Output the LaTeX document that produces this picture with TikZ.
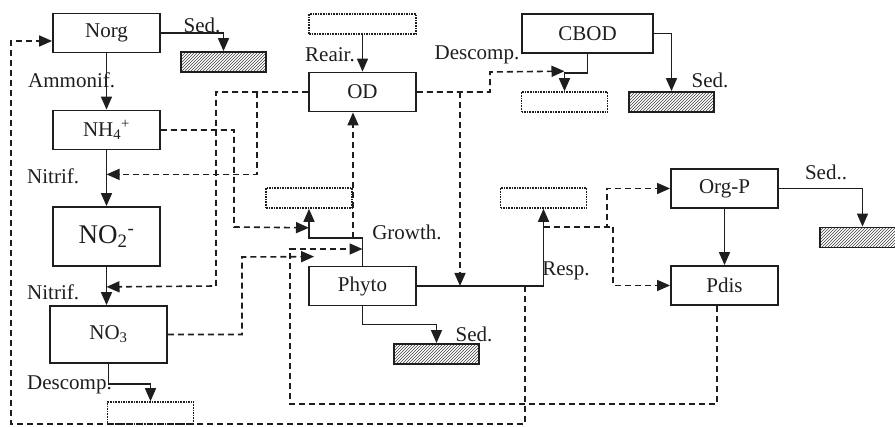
\documentclass[tikz,border=0pt]{standalone}
\usepackage{fontspec}
\setmainfont{Liberation Serif}
\usepackage{tikz}
\usetikzlibrary{arrows.meta, patterns}
\definecolor{ink}{RGB}{30,30,30}
\tikzstyle{pool} = [rectangle, minimum width=107pt, minimum height=39pt, inner sep=0pt, text centered, draw=ink, line width=1.8pt, text=ink]
\tikzstyle{sed} = [rectangle, minimum width=85pt, minimum height=20pt, draw=ink, line width=1.8pt, pattern=north east lines, pattern color=ink!85]
\tikzstyle{sink} = [rectangle, minimum width=86pt, minimum height=20pt, draw=ink, line width=1.6pt, densely dotted]
\tikzstyle{lbl} = [text=ink, inner sep=0pt]
\tikzstyle{arrow} = [line width=1.5pt, draw=ink, ->, >={Triangle[length=13pt,width=11pt]}]
\tikzstyle{flux} = [arrow, line width=1.6pt, dash pattern=on 6pt off 4pt]

\begin{document}
\begin{tikzpicture}[x=1pt, y=-1pt, node distance=97pt, font=\fontsize{21}{24}\selectfont]
\useasboundingbox (0,0) rectangle (895,427);
% pools
\node (norg) [pool] at (106.5,33) {Norg};
\node (nh) [pool, below of=norg] {NH\textsubscript{4}\textsuperscript{+}};
\node (notwo) [pool, below of=nh, yshift=-9.5pt, minimum height=59pt, font=\fontsize{27}{30}\selectfont] {NO\textsubscript{2}\textsuperscript{-}};
\node (nothree) [pool, below of=notwo, xshift=2pt, yshift=-1pt, minimum width=117pt, minimum height=57pt] {NO\textsubscript{3}};
\node (od) [pool] at (362.5,92) {OD};
\node (phyto) [pool, below of=od, yshift=-97pt] {Phyto};
\node (cbod) [pool, minimum width=131pt] at (587.5,33.5) {CBOD};
\node (orgp) [pool] at (724.5,188.5) {Org-P};
\node (pdis) [pool, below of=orgp] {Pdis};
% sediment and outside boxes
\node (sedn) [sed] at (223.5,62) {};
\node (sedc) [sed] at (671.5,102) {};
\node (sedp) [sed] at (436.5,354) {};
\node (sedo) [sed] at (862.5,237.5) {};
\node (srcod) [sink, minimum width=107pt] at (362.5,24) {};
\node (sinkc) [sink] at (564.5,102) {};
\node (sinkg) [sink] at (309,198) {};
\node (sinkr) [sink] at (543.5,198) {};
\node (sinkn) [sink, minimum height=22pt] at (150.5,413) {};
% labels
\node (tsedn) [lbl] at (202,25) {Sed.};
\node (tammon) [lbl, anchor=west] at (28,80) {Ammonif.};
\node (tnitone) [lbl, anchor=west] at (27,176) {Nitrif.};
\node (tnittwo) [lbl, anchor=west] at (27,292) {Nitrif.};
\node (tdesn) [lbl, anchor=west] at (27,385) {Descomp.};
\node (treair) [lbl] at (330,55) {Reair.};
\node (tdesc) [lbl] at (477,55) {Descomp.};
\node (tsedc) [lbl] at (710,80) {Sed.};
\node (tsedo) [lbl] at (826,172) {Sed..};
\node (tgrow) [lbl] at (407,232) {Growth.};
\node (tresp) [lbl] at (566,271) {Resp.};
\node (tsedp) [lbl] at (474,334) {Sed.};
% branch points
\coordinate (grow) at (362.5,238);
\coordinate (mort) at (525,286);
\coordinate (resp) at (543.5,227);
\coordinate (odn) at (257,92);
\coordinate (odr) at (460,92);
% solid fluxes
\draw [arrow] (norg) -- (nh);
\draw [arrow] (nh) -- (notwo);
\draw [arrow] (notwo.south) -- (notwo.south |- nothree.north);
\draw [arrow] (norg.east) -| (sedn.north);
\draw [arrow] (nothree.south) -- ++(0,20) -| (sinkn.north);
\draw [arrow] (srcod) -- (od);
\draw [arrow] (cbod.south) -- ++(0,19) -| (sinkc.north);
\draw [arrow] (cbod.east) -| (sedc.north);
\draw [arrow] (phyto.north) -- (grow) -| (sinkg.south);
\draw [arrow] (phyto.east) -| (sinkr.south);
\draw [arrow] (phyto.south) -- ++(0,18) -| (sedp.north);
\draw [arrow] (orgp) -- (pdis);
\draw [arrow] (orgp.east) -| (sedo.north);
% dashed fluxes
\draw [flux] (mort) |- (11,424) |- ([yshift=-8pt]norg.west);
\draw [flux] ([xshift=-7.5pt]pdis.south) |- (290,404) |- ([yshift=-11pt]grow);
\draw [flux] (nothree.east) -| (242,257) -- ([xshift=6pt,yshift=9pt]phyto.north west);
\draw [flux] (nh.east) -| (234,227) -- ([yshift=-19pt]sinkg.south);
\draw [flux] (od.west) -| (216,286) -- ([yshift=-20pt]notwo.south);
\draw [flux] (odn) |- ([yshift=-24pt]nh.south);
\draw [flux] ([xshift=-9.5pt]grow) -- ([xshift=-9.5pt]od.south);
\draw [flux] (od.east) -| (490,72) -- ([yshift=20pt]sinkc.north);
\draw [flux] (odr) -- (odr |- phyto.east);
\draw [flux] (resp) -- (607,227) |- (orgp.west);
\draw [flux] (resp) -- (613,227) |- (pdis.west);
\end{tikzpicture}
\end{document}
